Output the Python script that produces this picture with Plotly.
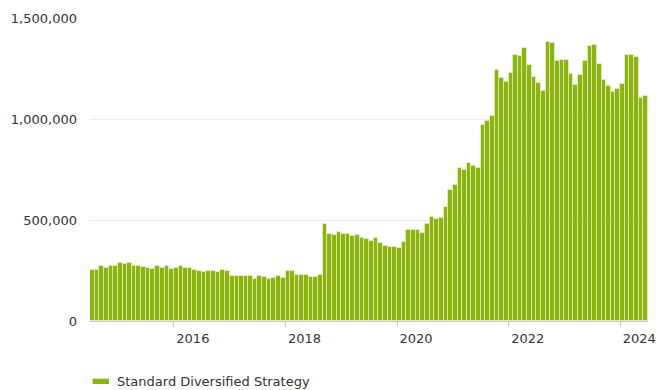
import pandas as pd
import plotly.graph_objects as go

# Monthly values, July 2014 - June 2024
months = pd.date_range("2014-07-01", "2024-06-01", freq="MS")
values = [
    252000, 252000, 274000, 263000, 274000, 274000, 288000, 281000, 288000, 274000,
    274000, 268000, 263000, 258000, 270000, 260000, 270000, 258000, 263000, 270000,
    261000, 263000, 252000, 248000, 242000, 247000, 247000, 242000, 253000, 247000,
    222000, 222000, 222000, 222000, 221000, 210000, 222000, 217000, 210000, 215000,
    222000, 215000, 247000, 247000, 229000, 229000, 229000, 220000, 220000, 227000,
    480000, 432000, 427000, 442000, 432000, 432000, 421000, 427000, 413000, 408000,
    396000, 413000, 385000, 373000, 365000, 365000, 360000, 390000, 449000, 449000,
    449000, 437000, 480000, 515000, 503000, 508000, 563000, 647000, 671000, 755000,
    748000, 783000, 768000, 755000, 969000, 989000, 1017000, 1244000, 1201000, 1185000,
    1226000, 1318000, 1311000, 1352000, 1269000, 1209000, 1180000, 1137000, 1382000, 1377000,
    1286000, 1293000, 1293000, 1222000, 1168000, 1216000, 1286000, 1359000, 1364000, 1270000,
    1191000, 1161000, 1132000, 1148000, 1173000, 1318000, 1318000, 1306000, 1102000, 1112000,
]
series_name = "Standard Diversified Strategy"
y_ticks = [0, 500000, 1000000, 1500000]

BAR_COLOR = "#8cb40f"
FONT = "DejaVu Sans"
TEXT = "#333333"

# each bar spans its whole calendar month
widths = [d.days_in_month * 86400000 for d in months]

fig = go.Figure(
    go.Bar(
        x=months,
        y=values,
        width=widths,
        offset=0,
        name=series_name,
        marker=dict(color=BAR_COLOR, line=dict(color="rgba(255,255,255,0.45)", width=1)),
        showlegend=False,
    )
)

fig.update_layout(
    width=656,
    height=390,
    margin=dict(l=90, r=8, t=18, b=69),
    paper_bgcolor="white",
    plot_bgcolor="white",
    bargap=0,
    font=dict(family=FONT, size=13, color=TEXT),
    xaxis=dict(
        type="date",
        range=["2014-07-01", "2024-07-01"],
        tick0="2016-01-01",
        dtick="M24",
        tickformat="%Y",
        ticks="outside",
        ticklen=5,
        tickcolor="#c8c8c8",
        showline=True,
        linecolor="#c8c8c8",
        linewidth=1,
        showgrid=False,
        automargin=False,
        ticklabelshift=19,
        ticklabeloverflow="allow",
        tickfont=dict(family=FONT, size=13, color=TEXT),
    ),
    yaxis=dict(
        range=[0, 1500000],
        tickvals=y_ticks,
        tickformat=",d",
        showgrid=True,
        gridcolor="#ebebeb",
        gridwidth=1,
        zeroline=False,
        showline=False,
        automargin=False,
        ticklabelstandoff=12,
        tickfont=dict(family=FONT, size=13, color=TEXT),
    ),
)

# legend swatch and label below the plot
fig.add_shape(
    type="rect", xref="paper", yref="paper",
    x0=0.0048, x1=0.0340, y0=-0.2079, y1=-0.1904,
    fillcolor=BAR_COLOR, line=dict(width=0),
)
fig.add_annotation(
    text=series_name, xref="paper", yref="paper",
    x=0.0448, y=-0.1997, xanchor="left", yanchor="middle",
    showarrow=False, font=dict(family=FONT, size=13, color=TEXT),
)

fig.write_html("out.html")
